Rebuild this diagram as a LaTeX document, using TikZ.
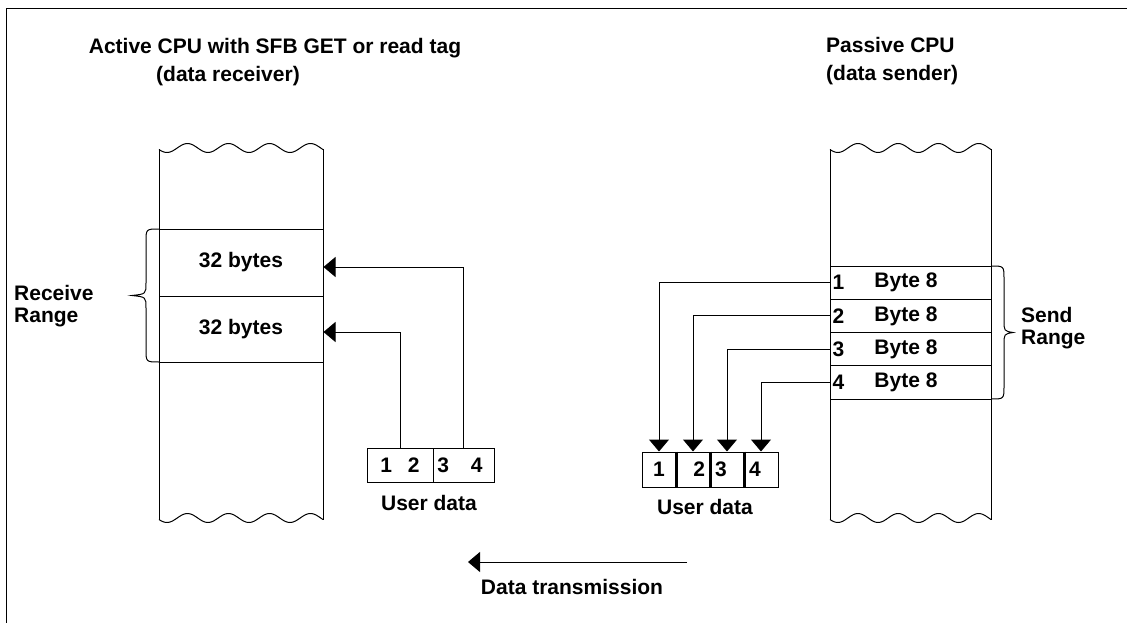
\documentclass[tikz,border=0pt]{standalone}
\usepackage{fontspec}
\setmainfont{Liberation Sans}
\usetikzlibrary{arrows.meta, positioning}

\tikzset{
  lbl/.style={font=\bfseries\fontsize{21}{22}\selectfont, inner sep=0pt},
  memcell/.style={lbl, draw, line width=1pt},
  fillarrow/.style={-{Triangle[length=12pt, width=20pt]}, line width=1pt},
  brace/.style={line width=1pt},
}

\begin{document}
\begin{tikzpicture}[x=1pt, y=-1pt]
    \useasboundingbox (0,0) rectangle (1127,623);
    % frame (only top and left edge fall inside the page)
    \draw[line width=1.5pt] (6.5,623) |- (1127,8.5);

    % titles
    \node[lbl] (recvtitle) at (275,48) {Active CPU with SFB GET or read tag};
    \node[lbl] (recvsub) at (228,76) {(data receiver)};
    \node[lbl, anchor=west] (sendtitle) at (826,45) {Passive CPU};
    \node[lbl, anchor=west] (sendsub) at (826,75) {(data sender)};

    % memory blocks with wavy cut edges
    \foreach \bx/\bw in {159/164, 830/161} {
        \foreach \by in {148, 518}
            \draw[line width=1pt] plot[domain=0:\bw, samples=90, smooth] ({\bx+\x}, {\by+4.5*sin(\x/\bw*1440+20)});
        \draw[line width=1pt] (\bx,149.5) -- (\bx,519.5) (\bx+\bw,149.5) -- (\bx+\bw,519.5);
    }

    % receive range
    \node[memcell, minimum width=164pt, minimum height=67pt] (recv1) at (241,262.5) {32 bytes};
    \node[memcell, minimum width=164pt, minimum height=66pt] (recv2) at (241,329) {32 bytes};
    \draw[brace] (159,229) .. controls (146,229) .. (146,242) -- (146,283) .. controls (146,294) .. (132,295.5) .. controls (146,297) .. (146,308) -- (146,349) .. controls (146,362) .. (159,362);
    \node[lbl, align=left, anchor=west] (recvrange) at (14,306) {Receive\\Range};

    % user data (receiver)
    \node[memcell, minimum width=66pt, minimum height=34pt] (rud12) at (400,465) {1\hspace{16pt}2};
    \node[memcell, minimum width=61pt, minimum height=34pt] (rud34) at (463.5,465) {3\hspace{22pt}4\hspace*{7pt}};
    \node[lbl] (rudlbl) at (429,503) {User data};
    \draw[fillarrow] (rud34.north) |- ([yshift=-4.5pt]recv1.east);
    \draw[fillarrow] (rud12.north) |- ([yshift=-3pt]recv2.east);

    % send range
    \foreach \i in {1,...,4}
        \node[memcell, minimum width=161pt, minimum height=33.25pt, label={[lbl, anchor=west, xshift=3pt]west:\i}] (send\i) at (910.5,{266+33.25*(\i-0.5)}) {\raisebox{2.5pt}{Byte 8}\hspace*{9pt}};
    \draw[brace] (991,266) .. controls (1004,266) .. (1004,279) -- (1004,320) .. controls (1004,331) .. (1013,332.5) .. controls (1004,334) .. (1004,345) -- (1004,386) .. controls (1004,399) .. (991,399);
    \node[lbl, align=left, anchor=west] (sendrange) at (1021,328) {Send\\Range};

    % user data (sender)
    \foreach \i/\al in {1/center, 2/right, 3/left, 4/left}
        \node[memcell, minimum height=35pt, text width=24pt, inner xsep=5pt, align=\al] (user\i) at ({642+34*(\i-0.5)},469.5) {\i};
    \foreach \i in {1,2,3}
        \draw[line width=3pt] (user\i.north east) -- (user\i.south east);
    \node[lbl] (userlbl) at (705,507) {User data};
    \foreach \i in {1,...,4}
        \draw[fillarrow] (send\i.west) -| (user\i.north);

    % direction of transmission
    \coordinate (dtfrom) at (687,562);
    \coordinate (dtto) at (468,562);
    \draw[fillarrow] (dtfrom) -- (dtto);
    \node[lbl] (dtlbl) at (572,587) {Data transmission};
\end{tikzpicture}
\end{document}
